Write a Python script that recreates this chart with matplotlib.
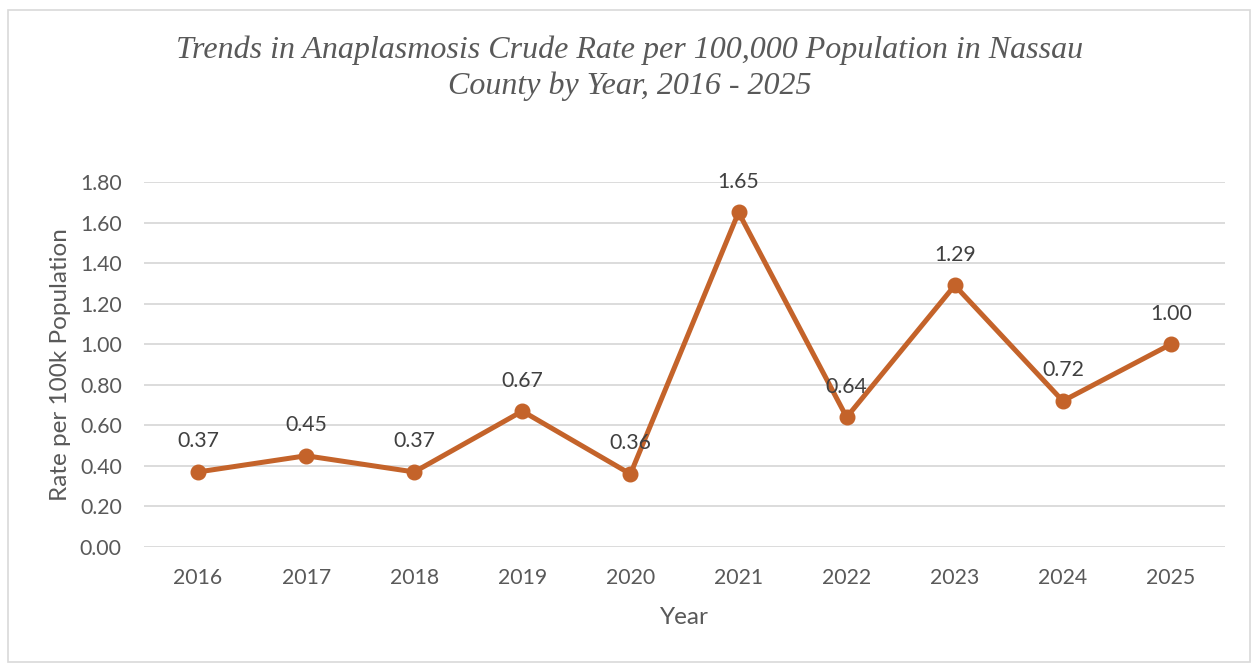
import matplotlib.pyplot as plt
from matplotlib.patches import Rectangle

years = ["2016", "2017", "2018", "2019", "2020", "2021", "2022", "2023", "2024", "2025"]
rates = [0.37, 0.45, 0.37, 0.67, 0.36, 1.65, 0.64, 1.29, 0.72, 1.00]
y_ticks = [0.0, 0.2, 0.4, 0.6, 0.8, 1.0, 1.2, 1.4, 1.6, 1.8]

line_color = "#C4632A"
text_color = "#595959"
grid_color = "#D9D9D9"
sans = ["Lato", "DejaVu Sans"]

fig = plt.figure(figsize=(12.59, 6.67), dpi=100)
fig.patches.append(Rectangle((8 / 1259, 5 / 667), 1242 / 1259, 652 / 667,
                             transform=fig.transFigure, fill=False,
                             edgecolor=grid_color, linewidth=1.2))

ax = fig.add_axes([144 / 1259, 1 - 547 / 667, 1081 / 1259, 365 / 667])
x = list(range(len(years)))
ax.plot(x, rates, color=line_color, linewidth=3.6, marker="o", markersize=10.5,
        zorder=3)
for xi, v in zip(x, rates):
    ax.annotate(f"{v:.2f}", (xi, v), xytext=(0, 22), textcoords="offset points",
                ha="center", va="center", fontsize=15.3, color="#404040",
                family=sans)

ax.set_xlim(-0.5, len(years) - 0.5)
ax.set_ylim(0, 1.8)
ax.set_xticks(x)
ax.set_xticklabels(years)
ax.set_yticks(y_ticks)
ax.set_yticklabels([f"{t:.2f}" for t in y_ticks])
ax.tick_params(length=0, labelsize=15.3, labelcolor=text_color)
ax.tick_params(axis="x", pad=15)
ax.tick_params(axis="y", pad=16)
for lab in ax.get_xticklabels() + ax.get_yticklabels():
    lab.set_family(sans)
ax.grid(axis="y", color=grid_color, linewidth=1.3)
ax.set_axisbelow(True)
for s in ax.spines.values():
    s.set_visible(False)

ax.set_xlabel("Year", fontsize=17.5, color=text_color, family=sans, labelpad=14)
ax.set_ylabel("Rate per 100k Population", fontsize=17.5, color=text_color,
              family=sans, labelpad=6)

fig.text(630 / 1259, 1 - 68 / 667,
         "Trends in Anaplasmosis Crude Rate per 100,000 Population in Nassau\nCounty by Year, 2016 - 2025",
         ha="center", va="center", fontsize=23, style="italic",
         family=["Liberation Serif", "DejaVu Serif"], color=text_color,
         linespacing=1.3)

fig.savefig("out.png", dpi=100)
